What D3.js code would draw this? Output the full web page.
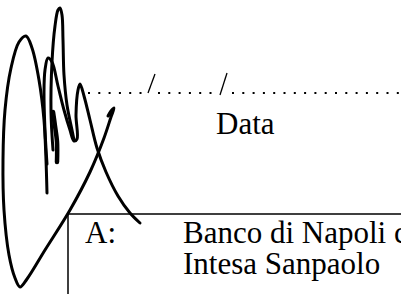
<!DOCTYPE html>
<html>
<head>
<meta charset="utf-8">
<script src="https://cdn.jsdelivr.net/npm/d3@7"></script>
<style>
  body { margin: 0; background: #fff; }
  svg { display: block; }
  .serif { font-family: "Liberation Serif", serif; fill: #000; }
</style>
</head>
<body>
<svg id="page" width="401" height="294"></svg>
<script>
// form content
const dateLabel = "Data";
const boxLabel = "A:";
const boxLines = ["Banco di Napoli c", "Intesa Sanpaolo"];

// dotted date line: [from, to] runs split by the two slashes
const dotRuns = [[88, 146], [158, 219], [232, 401]];
const slashes = [[148, 93, 155, 74], [220, 95, 227, 73]];

// signature strokes
const sigOuter = [[47,193],[46,160],[44,120],[39,80],[32,48],[26,36],[19,42],[11,68],[5,110],[3,160],[4,210],[9,255],[15,278],[20,287],[27,279],[45,250],[70,210],[90,172],[104,138],[111,117],[114,108],[111,111],[108,116]];
const sigTall = [[53,150],[51,112],[52,62],[55,26],[58,10],[60,8],[62,15],[63,40],[64,75],[67,105],[72,130],[74,140]];
const sigMid = [[47,164],[45,130],[44,92],[45,70],[48,58],[52,62],[58,86],[64,110],[70,130],[74,141],[77,139],[76,115],[78,90],[80,84],[84,96],[90,120],[97,148],[106,172],[118,196],[130,213],[140,223]];
const sigKnot = [[53,112],[55,126],[57,142],[57,162]];

const svg = d3.select("#page");

// dotted line
svg.selectAll(".dots")
  .data(dotRuns)
  .enter()
  .append("line")
  .attr("x1", d => d[0]).attr("x2", d => d[1])
  .attr("y1", 93).attr("y2", 93)
  .style("stroke", "#000")
  .style("stroke-width", 2)
  .style("stroke-dasharray", "2,8.3");

svg.selectAll(".slash")
  .data(slashes)
  .enter()
  .append("line")
  .attr("x1", d => d[0]).attr("y1", d => d[1])
  .attr("x2", d => d[2]).attr("y2", d => d[3])
  .style("stroke", "#000")
  .style("stroke-width", 1.3);

svg.append("text")
  .attr("class", "serif")
  .attr("x", 216).attr("y", 134)
  .style("font-size", "31px")
  .text(dateLabel);

// address box
svg.append("rect")
  .attr("x", 68).attr("y", 214)
  .attr("width", 400).attr("height", 200)
  .style("fill", "none")
  .style("stroke", "#000")
  .style("stroke-width", 1.5);

svg.append("text")
  .attr("class", "serif")
  .attr("x", 85).attr("y", 243)
  .style("font-size", "31px")
  .text(boxLabel);

svg.selectAll(".addr")
  .data(boxLines)
  .enter()
  .append("text")
  .attr("class", "serif")
  .attr("x", 183)
  .attr("y", (d, i) => 243 + i * 31)
  .style("font-size", "31px")
  .text(d => d);

// signature on top
const line = d3.line().curve(d3.curveCatmullRom.alpha(0.5));
svg.selectAll(".sig")
  .data([sigOuter, sigTall, sigMid])
  .enter()
  .append("path")
  .attr("d", line)
  .style("fill", "none")
  .style("stroke", "#000")
  .style("stroke-width", 3)
  .style("stroke-linecap", "round")
  .style("stroke-linejoin", "round");

svg.append("path")
  .attr("d", line(sigKnot))
  .style("fill", "none")
  .style("stroke", "#000")
  .style("stroke-width", 4.5)
  .style("stroke-linecap", "round");
</script>
</body>
</html>
